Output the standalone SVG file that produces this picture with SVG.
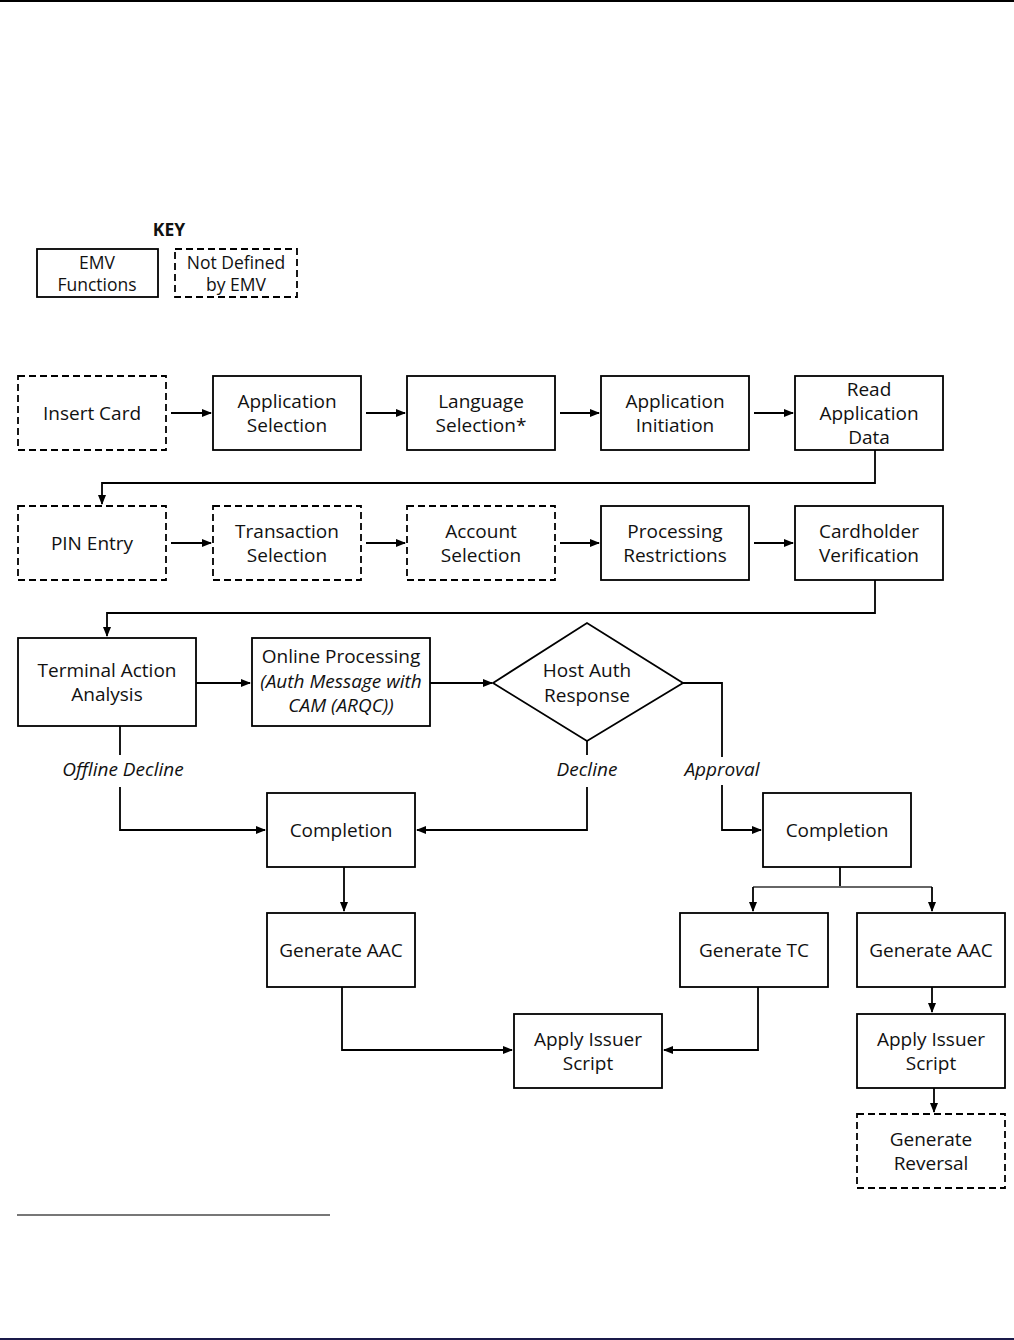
<svg xmlns="http://www.w3.org/2000/svg" width="1014" height="1340" viewBox="0 0 1014 1340">
<style>
.b{fill:#fff;stroke:#000;stroke-width:1.8}
.d{fill:#fff;stroke:#000;stroke-width:1.8;stroke-dasharray:7 4}
.t{font-family:"Open Sans","Noto Sans",sans-serif;font-size:19px;fill:#111;text-anchor:middle}
.k{font-family:"Open Sans","Noto Sans",sans-serif;font-size:17.5px;fill:#111;text-anchor:middle}
.i{font-style:italic}
.c{fill:none;stroke:#000;stroke-width:1.8}
</style>
<defs>
<marker id="a" markerWidth="10" markerHeight="8" refX="9" refY="4" orient="auto" markerUnits="userSpaceOnUse">
<path d="M0,0 L10,4 L0,8 z" fill="#000"/>
</marker>
</defs>
<rect width="1014" height="1340" fill="#fff"/>
<line x1="0" y1="1" x2="1014" y2="1" stroke="#000" stroke-width="2"/>
<line x1="0" y1="1339" x2="1014" y2="1339" stroke="#1a1a4a" stroke-width="2"/>
<line x1="17" y1="1215" x2="330" y2="1215" stroke="#777" stroke-width="2"/>

<g id="key">
<text x="169" y="236" class="k" font-weight="bold" font-size="17" fill="#000">KEY</text>
<rect x="37" y="249" width="121" height="48" class="b"/>
<text x="97" y="269" class="k">EMV</text>
<text x="97" y="291" class="k">Functions</text>
<rect x="175" y="249" width="122" height="48" class="d"/>
<text x="236" y="269" class="k">Not Defined</text>
<text x="236" y="291" class="k">by EMV</text>
</g>

<g id="connectors">
<line x1="171" y1="413" x2="211" y2="413" class="c" marker-end="url(#a)"/>
<line x1="366" y1="413" x2="405" y2="413" class="c" marker-end="url(#a)"/>
<line x1="560" y1="413" x2="599" y2="413" class="c" marker-end="url(#a)"/>
<line x1="754" y1="413" x2="793" y2="413" class="c" marker-end="url(#a)"/>
<polyline points="875,450 875,483 102,483 102,504" class="c" marker-end="url(#a)"/>
<line x1="171" y1="543" x2="211" y2="543" class="c" marker-end="url(#a)"/>
<line x1="366" y1="543" x2="405" y2="543" class="c" marker-end="url(#a)"/>
<line x1="560" y1="543" x2="599" y2="543" class="c" marker-end="url(#a)"/>
<line x1="754" y1="543" x2="793" y2="543" class="c" marker-end="url(#a)"/>
<polyline points="875,580 875,613 107,613 107,636" class="c" marker-end="url(#a)"/>
<line x1="196" y1="683" x2="250" y2="683" class="c" marker-end="url(#a)"/>
<line x1="430" y1="683" x2="492" y2="683" class="c" marker-end="url(#a)"/>
<line x1="120" y1="726" x2="120" y2="755" class="c"/>
<polyline points="120,787 120,830 265,830" class="c" marker-end="url(#a)"/>
<line x1="587" y1="741" x2="587" y2="755" class="c"/>
<polyline points="587,787 587,830 417,830" class="c" marker-end="url(#a)"/>
<polyline points="683,683 722,683 722,757" class="c"/>
<polyline points="722,785 722,830 761,830" class="c" marker-end="url(#a)"/>
<line x1="344" y1="867" x2="344" y2="911" class="c" marker-end="url(#a)"/>
<line x1="840" y1="867" x2="840" y2="887" class="c"/>
<line x1="753" y1="887" x2="932" y2="887" stroke="#666" stroke-width="1.8"/>
<line x1="753" y1="887" x2="753" y2="911" class="c" marker-end="url(#a)"/>
<line x1="932" y1="887" x2="932" y2="911" class="c" marker-end="url(#a)"/>
<polyline points="342,987 342,1050 512,1050" class="c" marker-end="url(#a)"/>
<polyline points="758,987 758,1050 664,1050" class="c" marker-end="url(#a)"/>
<line x1="932" y1="987" x2="932" y2="1012" class="c" marker-end="url(#a)"/>
<line x1="934" y1="1088" x2="934" y2="1112" class="c" marker-end="url(#a)"/>
</g>

<g id="labels">
<text x="123" y="776" class="t i">Offline Decline</text>
<text x="587" y="776" class="t i">Decline</text>
<text x="722" y="776" class="t i">Approval</text>
</g>

<g id="insert-card"><rect x="18" y="376" width="148" height="74" class="d"/><text x="92" y="420" class="t">Insert Card</text></g>
<g id="application-selection"><rect x="213" y="376" width="148" height="74" class="b"/><text x="287" y="408" class="t">Application</text><text x="287" y="432" class="t">Selection</text></g>
<g id="language-selection"><rect x="407" y="376" width="148" height="74" class="b"/><text x="481" y="408" class="t">Language</text><text x="481" y="432" class="t">Selection*</text></g>
<g id="application-initiation"><rect x="601" y="376" width="148" height="74" class="b"/><text x="675" y="408" class="t">Application</text><text x="675" y="432" class="t">Initiation</text></g>
<g id="read-application-data"><rect x="795" y="376" width="148" height="74" class="b"/><text x="869" y="396" class="t">Read</text><text x="869" y="420" class="t">Application</text><text x="869" y="444" class="t">Data</text></g>

<g id="pin-entry"><rect x="18" y="506" width="148" height="74" class="d"/><text x="92" y="550" class="t">PIN Entry</text></g>
<g id="transaction-selection"><rect x="213" y="506" width="148" height="74" class="d"/><text x="287" y="538" class="t">Transaction</text><text x="287" y="562" class="t">Selection</text></g>
<g id="account-selection"><rect x="407" y="506" width="148" height="74" class="d"/><text x="481" y="538" class="t">Account</text><text x="481" y="562" class="t">Selection</text></g>
<g id="processing-restrictions"><rect x="601" y="506" width="148" height="74" class="b"/><text x="675" y="538" class="t">Processing</text><text x="675" y="562" class="t">Restrictions</text></g>
<g id="cardholder-verification"><rect x="795" y="506" width="148" height="74" class="b"/><text x="869" y="538" class="t">Cardholder</text><text x="869" y="562" class="t">Verification</text></g>

<g id="terminal-action-analysis"><rect x="18" y="638" width="178" height="88" class="b"/><text x="107" y="677" class="t">Terminal Action</text><text x="107" y="701" class="t">Analysis</text></g>
<g id="online-processing"><rect x="252" y="638" width="178" height="88" class="b"/><text x="341" y="663" class="t">Online Processing</text><text x="341" y="688" class="t i" font-size="16">(Auth Message with</text><text x="341" y="712" class="t i" font-size="16">CAM (ARQC))</text></g>
<g id="host-auth-response"><polygon points="493,683 587,623 683,683 587,741" class="b"/><text x="587" y="677" class="t">Host Auth</text><text x="587" y="702" class="t">Response</text></g>

<g id="completion-decline"><rect x="267" y="793" width="148" height="74" class="b"/><text x="341" y="837" class="t">Completion</text></g>
<g id="completion-approval"><rect x="763" y="793" width="148" height="74" class="b"/><text x="837" y="837" class="t">Completion</text></g>
<g id="generate-aac-left"><rect x="267" y="913" width="148" height="74" class="b"/><text x="341" y="957" class="t">Generate AAC</text></g>
<g id="generate-tc"><rect x="680" y="913" width="148" height="74" class="b"/><text x="754" y="957" class="t">Generate TC</text></g>
<g id="generate-aac-right"><rect x="857" y="913" width="148" height="74" class="b"/><text x="931" y="957" class="t">Generate AAC</text></g>
<g id="apply-issuer-script-mid"><rect x="514" y="1014" width="148" height="74" class="b"/><text x="588" y="1046" class="t">Apply Issuer</text><text x="588" y="1070" class="t">Script</text></g>
<g id="apply-issuer-script-right"><rect x="857" y="1014" width="148" height="74" class="b"/><text x="931" y="1046" class="t">Apply Issuer</text><text x="931" y="1070" class="t">Script</text></g>
<g id="generate-reversal"><rect x="857" y="1114" width="148" height="74" class="d"/><text x="931" y="1146" class="t">Generate</text><text x="931" y="1170" class="t">Reversal</text></g>
</svg>
